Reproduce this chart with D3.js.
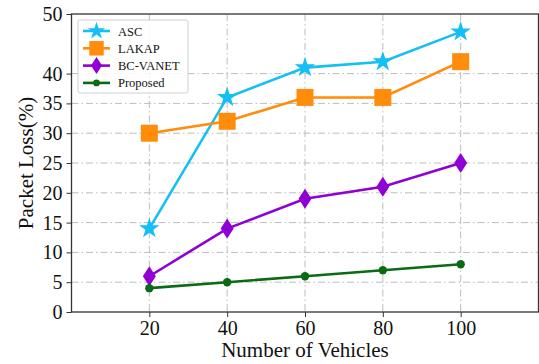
<!DOCTYPE html>
<html>
<head>
<meta charset="utf-8">
<script src="https://cdn.jsdelivr.net/npm/d3@7"></script>
<style>
  html, body { margin: 0; padding: 0; background: #fff; }
  svg { display: block; }
  text { font-family: "Liberation Serif", "DejaVu Serif", serif; fill: #111; }
</style>
</head>
<body>
<svg id="chart" width="539" height="364"></svg>
<script>
// Packet loss vs number of vehicles
const vehicles = [20, 40, 60, 80, 100];
const asc = [14, 36, 41, 42, 47];
const lakap = [30, 32, 36, 36, 42];
const bcVanet = [6, 14, 19, 21, 25];
const proposed = [4, 5, 6, 7, 8];
const xTicks = [20, 40, 60, 80, 100];
const yTicks = [0, 5, 10, 15, 20, 25, 30, 35, 40, 50];

const series = [
  { name: "ASC", values: asc, color: "#14bff5", marker: "star" },
  { name: "LAKAP", values: lakap, color: "#ff8c0a", marker: "square" },
  { name: "BC-VANET", values: bcVanet, color: "#9000d4", marker: "diamond" },
  { name: "Proposed", values: proposed, color: "#0b6a14", marker: "circle" }
];

const svg = d3.select("#chart");
const plotLeft = 71.5, plotRight = 538.5, plotTop = 14, plotBottom = 312;

const x = d3.scaleLinear().domain([0, 120]).range([plotLeft, plotRight]);
const y = d3.scaleLinear().domain([0, 50]).range([plotBottom, plotTop]);

// grid
const grid = svg.append("g");
grid.selectAll("line.v").data(xTicks).join("line")
  .attr("x1", d => x(d)).attr("x2", d => x(d))
  .attr("y1", plotTop).attr("y2", plotBottom)
  .attr("stroke", "#bdbdbd").attr("stroke-width", 1)
  .attr("stroke-dasharray", "7,3,1.5,3");
grid.selectAll("line.h").data(yTicks.filter(d => d > 0 && d < 50)).join("line")
  .attr("x1", plotLeft).attr("x2", plotRight)
  .attr("y1", d => y(d)).attr("y2", d => y(d))
  .attr("stroke", "#bdbdbd").attr("stroke-width", 1)
  .attr("stroke-dasharray", "7,3,1.5,3");

// axes
const xAxis = svg.append("g").attr("transform", `translate(0,${plotBottom})`)
  .call(d3.axisBottom(x).tickValues(xTicks).tickSize(5).tickPadding(4));
const yAxis = svg.append("g").attr("transform", `translate(${plotLeft},0)`)
  .call(d3.axisLeft(y).tickValues(yTicks).tickSize(5).tickPadding(4));
[xAxis, yAxis].forEach(a => {
  a.select(".domain").remove();
  a.selectAll("line").attr("stroke", "#333").attr("stroke-width", 1);
  a.selectAll("text").style("font-size", "20px").attr("fill", "#111");
});

// frame
svg.append("rect").attr("x", plotLeft).attr("y", plotTop)
  .attr("width", plotRight - plotLeft).attr("height", plotBottom - plotTop)
  .attr("fill", "none").attr("stroke", "#333").attr("stroke-width", 1.3);

// axis titles
svg.append("text").attr("x", x(60)).attr("y", 357)
  .attr("text-anchor", "middle").style("font-size", "21px")
  .text("Number of Vehicles");
svg.append("text").attr("transform", `translate(33,${(plotTop + plotBottom) / 2}) rotate(-90)`)
  .attr("text-anchor", "middle").style("font-size", "21px")
  .text("Packet Loss(%)");

function drawMarker(g, type, color, cx, cy, scale) {
  const s = scale || 1;
  if (type === "star") {
    g.append("path").attr("d", d3.symbol(d3.symbolStar, 130 * s * s)())
      .attr("transform", `translate(${cx},${cy})`)
      .attr("fill", color);
  } else if (type === "square") {
    const h = 8.5 * s;
    g.append("rect").attr("x", cx - h).attr("y", cy - h)
      .attr("width", 2 * h).attr("height", 2 * h).attr("fill", color);
  } else if (type === "diamond") {
    const w = 6.5 * s, h = 10 * s;
    g.append("path")
      .attr("d", `M${cx},${cy - h}L${cx + w},${cy}L${cx},${cy + h}L${cx - w},${cy}Z`)
      .attr("fill", color);
  } else {
    g.append("circle").attr("cx", cx).attr("cy", cy).attr("r", 4.2 * s).attr("fill", color);
  }
}

const line = d3.line().x(d => x(d[0])).y(d => y(d[1]));
series.forEach(s => {
  const pts = vehicles.map((v, i) => [v, s.values[i]]);
  const g = svg.append("g");
  g.append("path").attr("d", line(pts)).attr("fill", "none")
    .attr("stroke", s.color).attr("stroke-width", 2.6);
  pts.forEach(p => drawMarker(g, s.marker, s.color, x(p[0]), y(p[1])));
});

// legend
const lg = svg.append("g");
lg.append("rect").attr("x", 78).attr("y", 20).attr("width", 110).attr("height", 73)
  .attr("rx", 2).attr("fill", "#fff").attr("fill-opacity", 0.85)
  .attr("stroke", "#d0d0d0").attr("stroke-width", 1);
series.forEach((s, i) => {
  const cy = 31 + i * 17.3;
  lg.append("line").attr("x1", 83).attr("x2", 110).attr("y1", cy).attr("y2", cy)
    .attr("stroke", s.color).attr("stroke-width", 2.6);
  drawMarker(lg, s.marker, s.color, 96.5, cy, s.marker === "circle" ? 0.8 : 0.85);
  lg.append("text").attr("x", 118).attr("y", cy + 4.5).style("font-size", "12.5px")
    .text(s.name);
});
</script>
</body>
</html>
